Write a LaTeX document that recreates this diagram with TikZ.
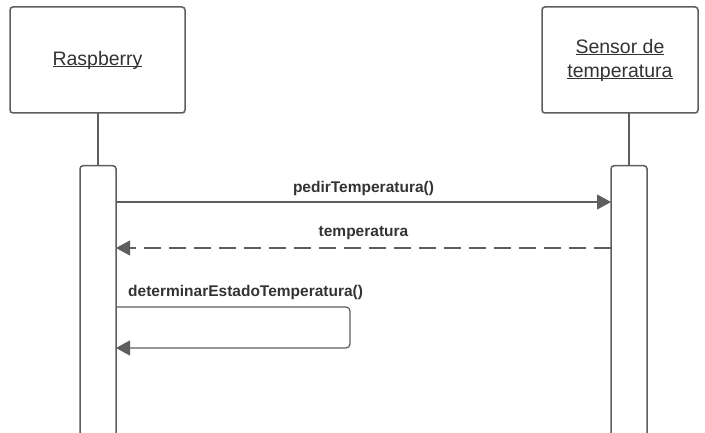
\documentclass[tikz,border=0pt]{standalone}
\usepackage{fontspec}
\setmainfont{Liberation Sans}
\usetikzlibrary{arrows.meta}
\definecolor{linegray}{HTML}{5E5E5E}
\definecolor{textgray}{HTML}{333333}
\newcommand{\myul}[1]{\setbox0\hbox{#1}\rlap{\rule[-2.2pt]{\wd0}{1.1pt}}\box0}
\tikzset{
  actor/.style={draw=linegray, line width=1.5pt, rounded corners=3pt, fill=white, inner sep=0pt},
  activation/.style={draw=linegray, line width=1.5pt, rounded corners=3pt, fill=white},
  lifeline/.style={draw=linegray, line width=1.5pt},
  msg/.style={draw=linegray, line width=1.2pt, -{Triangle[length=14pt,width=15pt]}},
  retmsg/.style={msg, dash pattern=on 17pt off 8pt},
  msglabel/.style={text=textgray, font=\fontsize{15.5}{18}\selectfont\bfseries, inner sep=0pt},
  actorlabel/.style={text=textgray, font=\fontsize{19.5}{24}\selectfont, align=center, inner sep=0pt}
}
\begin{document}
\begin{tikzpicture}[x=1pt, y=-1pt]
\useasboundingbox (0,0) rectangle (705,433);
\begin{scope}
\clip (0,0) rectangle (705,433);
% lifelines
\coordinate (rtop) at (98,113);
\coordinate (rbot) at (98,165);
\coordinate (stop) at (629,113);
\coordinate (sbot) at (629,165);
\draw[lifeline] (rtop) -- (rbot);
\draw[lifeline] (stop) -- (sbot);
% actor boxes
\node[actor, minimum width=175pt, minimum height=106pt] (rasp) at (97.5,60) {};
\node[actorlabel] (rasplabel) at (97.5,60) {\myul{Raspberry}};
\node[actor, minimum width=156pt, minimum height=106pt] (sens) at (620,60) {};
\node[actorlabel] (senslabel) at (620,60) {\myul{Sensor de}\\\myul{temperatura}};
% activations
\node[activation, minimum width=36pt, minimum height=290pt, anchor=north] (ract) at (98,165) {};
\node[activation, minimum width=36pt, minimum height=290pt, anchor=north] (sact) at (629,165) {};
% messages
\coordinate (m1s) at (116,202);
\coordinate (m1e) at (611,202);
\draw[msg] (m1s) -- (m1e);
\node[msglabel] (l1) at (363.5,188) {pedirTemperatura()};
\coordinate (m2s) at (611,248);
\coordinate (m2e) at (116,248);
\draw[retmsg] (m2s) -- (m2e);
\node[msglabel] (l2) at (363.5,233) {temperatura};
\coordinate (m3s) at (116,307);
\coordinate (m3c1) at (350,307);
\coordinate (m3c2) at (350,348);
\coordinate (m3e) at (116,348);
\draw[msg, rounded corners=4pt] (m3s) -- (m3c1) -- (m3c2) -- (m3e);
\node[msglabel, anchor=west] (l3) at (128,292) {determinarEstadoTemperatura()};
\end{scope}
\end{tikzpicture}
\end{document}
